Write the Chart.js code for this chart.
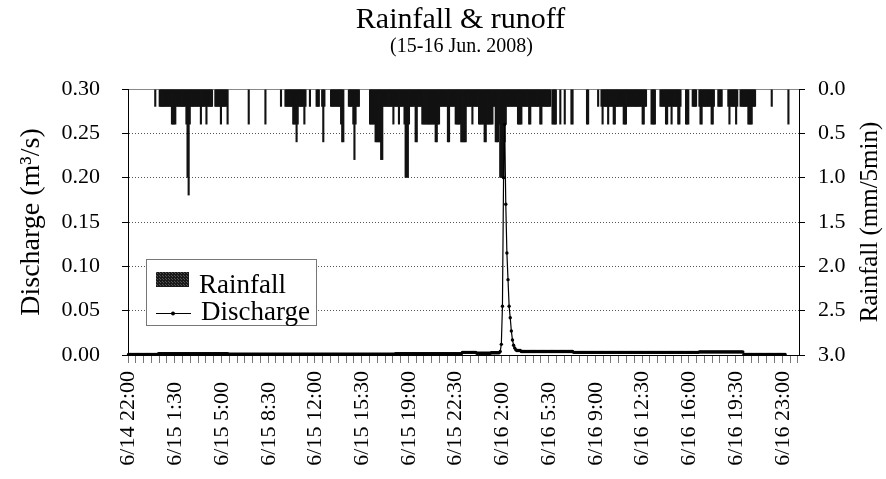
<!DOCTYPE html>
<html>
<head>
<meta charset="utf-8">
<title>Rainfall & runoff</title>
<script src="https://cdn.jsdelivr.net/npm/chart.js@4.4.1/dist/chart.umd.min.js"></script>
<style>
    html, body { margin: 0; padding: 0; background: #fff; }
    #chart { display: block; }
</style>
</head>
<body>
<canvas id="chart" width="886" height="479"></canvas>
<script>

const titleText = 'Rainfall & runoff';
const subtitleText = '(15-16 Jun. 2008)';

// 5-minute records from 6/14 22:00, one row per hour
const rainfall = [
    0, 0, 0, 0, 0, 0, 0, 0, 0, 0, 0, 0,
    0, 0, 0, 0, 0, 0, 0, 0, 0, 0, 0, 0,
    0.2, 0, 0, 0, 0.2, 0.2, 0.2, 0.2, 0.2, 0.2, 0.2, 0.2,
    0.2, 0.2, 0.2, 0.4, 0.4, 0.4, 0.4, 0.2, 0.2, 0.2, 0.2, 0.2,
    0.2, 0.2, 0.2, 0.2, 0.4, 1.0, 1.2, 0.4, 0.2, 0.2, 0.2, 0.2,
    0.2, 0.2, 0.2, 0.2, 0.2, 0.4, 0.2, 0.2, 0.2, 0.2, 0.4, 0.2,
    0.2, 0.2, 0.2, 0.2, 0, 0, 0.2, 0.2, 0.2, 0.2, 0.2, 0.4,
    0.2, 0.2, 0.2, 0.2, 0.2, 0.4, 0, 0, 0, 0, 0, 0,
    0, 0, 0, 0, 0, 0, 0, 0, 0, 0, 0, 0,
    0.4, 0, 0, 0, 0, 0, 0, 0, 0, 0, 0, 0,
    0, 0, 0, 0.4, 0, 0, 0, 0, 0, 0, 0, 0,
    0, 0, 0, 0, 0, 0.2, 0, 0, 0, 0.2, 0.2, 0.2,
    0.2, 0.2, 0.2, 0.2, 0.4, 0.4, 0.4, 0.6, 0.4, 0.2, 0.2, 0.2,
    0.2, 0.2, 0.4, 0.2, 0, 0, 0, 0.2, 0, 0, 0, 0,
    0, 0.2, 0.2, 0.2, 0, 0, 0.2, 0.6, 0.2, 0, 0, 0,
    0, 0, 0.2, 0.2, 0.2, 0.2, 0.2, 0.2, 0.2, 0.2, 0.2, 0.4,
    0.6, 0.6, 0, 0, 0, 0, 0.2, 0.2, 0.2, 0.2, 0.4, 0.8,
    0.4, 0.2, 0.2, 0.2, 0, 0, 0, 0, 0, 0, 0, 0,
    0, 0.4, 0.4, 0.4, 0.4, 0.4, 0.6, 0.6, 0.6, 0.6, 0.6, 0.8,
    0.8, 0.2, 0.2, 0.2, 0.2, 0.2, 0.2, 0.2, 0.2, 0.2, 0.4, 0.2,
    0.2, 0.2, 0.2, 0.4, 0.2, 0.2, 0.2, 0.2, 0.4, 1.0, 1.0, 1.0,
    0.4, 0.2, 0.2, 0.2, 0.2, 0.2, 0.6, 0.6, 0.2, 0.2, 0.2, 0.2,
    0.4, 0.4, 0.4, 0.4, 0.4, 0.4, 0.4, 0.4, 0.4, 0.4, 0.4, 0.4,
    0.6, 0.6, 0.4, 0.4, 0.2, 0.2, 0.2, 0.2, 0.2, 0.2, 0.2, 0.6,
    0.6, 0.2, 0.2, 0.2, 0.2, 0.2, 0.4, 0.4, 0.4, 0.4, 0.4, 0.6,
    0.6, 0.6, 0.6, 0.6, 0.2, 0.2, 0.2, 0.2, 0.2, 0.4, 0.2, 0.2,
    0.2, 0.2, 0.2, 0.4, 0.4, 0.4, 0.4, 0.4, 0.6, 0.6, 0.4, 0.4,
    0.4, 0.4, 0.4, 0.4, 0.2, 0.2, 0.6, 0.6, 0.6, 0.4, 1.0, 1.0,
    1.0, 1.0, 0.6, 0.4, 0.2, 0.2, 0.2, 0.2, 0.2, 0.2, 0.2, 0.2,
    0.2, 0.2, 0.4, 0.4, 0.4, 0.4, 0.2, 0.2, 0.2, 0.2, 0.2, 0.2,
    0.4, 0.4, 0.2, 0.2, 0.2, 0.2, 0.2, 0.2, 0.2, 0.2, 0.4, 0.4,
    0.2, 0.2, 0.2, 0.2, 0.2, 0.2, 0.2, 0.2, 0, 0.4, 0.4, 0.4,
    0.4, 0, 0, 0, 0.4, 0, 0, 0, 0.4, 0, 0, 0,
    0, 0, 0.4, 0.4, 0, 0, 0, 0, 0, 0, 0, 0,
    0, 0, 0, 0, 0.4, 0.4, 0, 0, 0, 0, 0, 0,
    0, 0, 0.2, 0, 0, 0.2, 0.4, 0.2, 0.2, 0.2, 0.2, 0.4,
    0.2, 0.2, 0.2, 0.2, 0.4, 0.4, 0.2, 0.2, 0.2, 0.2, 0.2, 0.2,
    0.2, 0.4, 0.4, 0.4, 0.2, 0.2, 0.2, 0.2, 0.2, 0.2, 0.2, 0.2,
    0.2, 0.2, 0.2, 0.2, 0.2, 0.2, 0.4, 0.4, 0.2, 0.2, 0, 0,
    0, 0, 0.4, 0.4, 0.4, 0.4, 0, 0, 0, 0, 0.2, 0.2,
    0.2, 0.2, 0.2, 0.4, 0.4, 0.2, 0.2, 0.2, 0.4, 0.2, 0.2, 0.2,
    0.2, 0.2, 0.4, 0.4, 0.2, 0, 0, 0, 0, 0.4, 0.4, 0.4,
    0, 0, 0, 0.2, 0.2, 0.2, 0.2, 0, 0, 0.2, 0.4, 0.4,
    0.2, 0.2, 0.2, 0.2, 0.2, 0.2, 0.2, 0.2, 0.4, 0.4, 0.2, 0,
    0, 0, 0.2, 0.2, 0.2, 0.2, 0, 0, 0, 0, 0, 0.2,
    0.4, 0.2, 0.2, 0.2, 0.2, 0.2, 0.4, 0.2, 0, 0, 0.2, 0.2,
    0.2, 0.2, 0.2, 0.2, 0.2, 0.4, 0.4, 0.4, 0.4, 0.2, 0.2, 0.2,
    0, 0, 0, 0, 0, 0, 0, 0, 0, 0, 0, 0,
    0, 0, 0.2, 0, 0, 0, 0, 0, 0, 0, 0, 0,
    0, 0, 0, 0, 0, 0.4, 0, 0, 0, 0, 0, 0,
    0, 0, 0
];

const discharge = [
    0.0005, 0.0005, 0.0005, 0.0005, 0.0005, 0.0005, 0.0005, 0.0005, 0.0005, 0.0005, 0.0005, 0.0005,
    0.0005, 0.0005, 0.0005, 0.0005, 0.0005, 0.0005, 0.0005, 0.0005, 0.0005, 0.0005, 0.0005, 0.0005,
    0.0005, 0.0005, 0.0005, 0.0015, 0.0015, 0.0015, 0.0015, 0.0015, 0.0015, 0.0015, 0.0015, 0.0015,
    0.0015, 0.0015, 0.0015, 0.0015, 0.0015, 0.0015, 0.0015, 0.0015, 0.0015, 0.0015, 0.0015, 0.0015,
    0.0015, 0.0015, 0.0015, 0.0015, 0.0015, 0.0015, 0.0015, 0.0015, 0.0015, 0.0015, 0.0015, 0.0015,
    0.0015, 0.0015, 0.0015, 0.0015, 0.0015, 0.0015, 0.0015, 0.0015, 0.0015, 0.0015, 0.0015, 0.0015,
    0.0015, 0.0015, 0.0015, 0.0015, 0.0015, 0.0015, 0.0015, 0.0015, 0.0015, 0.0015, 0.0015, 0.0015,
    0.0015, 0.0015, 0.0015, 0.0015, 0.0015, 0.0015, 0.001, 0.001, 0.001, 0.001, 0.001, 0.001,
    0.001, 0.001, 0.001, 0.001, 0.001, 0.001, 0.001, 0.001, 0.001, 0.001, 0.001, 0.001,
    0.001, 0.001, 0.001, 0.001, 0.001, 0.001, 0.001, 0.001, 0.001, 0.001, 0.001, 0.001,
    0.001, 0.001, 0.001, 0.001, 0.001, 0.001, 0.001, 0.001, 0.001, 0.001, 0.001, 0.001,
    0.001, 0.001, 0.001, 0.001, 0.001, 0.001, 0.001, 0.001, 0.001, 0.001, 0.001, 0.001,
    0.001, 0.001, 0.001, 0.001, 0.001, 0.001, 0.001, 0.001, 0.001, 0.001, 0.001, 0.001,
    0.001, 0.001, 0.001, 0.001, 0.001, 0.001, 0.001, 0.001, 0.001, 0.001, 0.001, 0.001,
    0.001, 0.001, 0.001, 0.001, 0.001, 0.001, 0.001, 0.001, 0.001, 0.001, 0.001, 0.001,
    0.001, 0.001, 0.001, 0.001, 0.001, 0.001, 0.001, 0.001, 0.001, 0.001, 0.001, 0.001,
    0.001, 0.001, 0.001, 0.001, 0.001, 0.001, 0.001, 0.001, 0.001, 0.001, 0.001, 0.001,
    0.001, 0.001, 0.001, 0.001, 0.001, 0.001, 0.001, 0.001, 0.001, 0.001, 0.001, 0.001,
    0.001, 0.001, 0.001, 0.001, 0.001, 0.001, 0.001, 0.001, 0.001, 0.001, 0.001, 0.001,
    0.001, 0.001, 0.001, 0.001, 0.001, 0.001, 0.001, 0.001, 0.001, 0.001, 0.001, 0.001,
    0.0015, 0.0015, 0.0015, 0.0015, 0.0015, 0.0015, 0.0015, 0.0015, 0.0015, 0.0015, 0.0015, 0.0015,
    0.0015, 0.0015, 0.0015, 0.0015, 0.0015, 0.0015, 0.0015, 0.0015, 0.0015, 0.0015, 0.0015, 0.0015,
    0.0015, 0.0015, 0.0015, 0.0015, 0.0015, 0.0015, 0.0015, 0.0015, 0.0015, 0.0015, 0.0015, 0.0015,
    0.0015, 0.0015, 0.0015, 0.0015, 0.0015, 0.0015, 0.0015, 0.0015, 0.0015, 0.0015, 0.0015, 0.0015,
    0.0015, 0.0015, 0.0015, 0.0015, 0.0015, 0.0015, 0.0015, 0.0015, 0.0015, 0.0015, 0.0015, 0.0015,
    0.003, 0.003, 0.003, 0.003, 0.003, 0.003, 0.003, 0.003, 0.003, 0.003, 0.003, 0.003,
    0.003, 0.002, 0.002, 0.002, 0.002, 0.002, 0.002, 0.002, 0.002, 0.002, 0.002, 0.002,
    0.002, 0.002, 0.0025, 0.0025, 0.0025, 0.0025, 0.0025, 0.0025, 0.0025, 0.0025, 0.004, 0.012,
    0.055, 0.2, 0.26, 0.17, 0.115, 0.085, 0.055, 0.042, 0.027, 0.017, 0.011, 0.008,
    0.006, 0.005, 0.005, 0.005, 0.005, 0.004, 0.004, 0.004, 0.004, 0.004, 0.004, 0.004,
    0.004, 0.004, 0.004, 0.004, 0.004, 0.004, 0.004, 0.004, 0.004, 0.004, 0.004, 0.004,
    0.004, 0.004, 0.004, 0.004, 0.004, 0.004, 0.004, 0.004, 0.004, 0.004, 0.004, 0.004,
    0.004, 0.004, 0.004, 0.004, 0.004, 0.004, 0.004, 0.004, 0.004, 0.004, 0.004, 0.004,
    0.004, 0.004, 0.004, 0.004, 0.003, 0.003, 0.003, 0.003, 0.003, 0.003, 0.003, 0.003,
    0.003, 0.003, 0.003, 0.003, 0.003, 0.003, 0.003, 0.003, 0.003, 0.003, 0.003, 0.003,
    0.003, 0.003, 0.003, 0.003, 0.003, 0.003, 0.003, 0.003, 0.003, 0.003, 0.003, 0.003,
    0.003, 0.003, 0.003, 0.003, 0.003, 0.003, 0.003, 0.003, 0.003, 0.003, 0.003, 0.003,
    0.003, 0.003, 0.003, 0.003, 0.003, 0.003, 0.003, 0.003, 0.003, 0.003, 0.003, 0.003,
    0.003, 0.003, 0.003, 0.003, 0.003, 0.003, 0.003, 0.003, 0.003, 0.003, 0.003, 0.003,
    0.003, 0.003, 0.003, 0.003, 0.003, 0.003, 0.003, 0.003, 0.003, 0.003, 0.003, 0.003,
    0.003, 0.003, 0.003, 0.003, 0.003, 0.003, 0.003, 0.003, 0.003, 0.003, 0.003, 0.003,
    0.003, 0.003, 0.003, 0.003, 0.003, 0.003, 0.003, 0.003, 0.003, 0.003, 0.003, 0.003,
    0.003, 0.003, 0.003, 0.003, 0.003, 0.003, 0.003, 0.003, 0.003, 0.0035, 0.0035, 0.0035,
    0.0035, 0.0035, 0.0035, 0.0035, 0.0035, 0.0035, 0.0035, 0.0035, 0.0035, 0.0035, 0.0035, 0.0035,
    0.0035, 0.0035, 0.0035, 0.0035, 0.0035, 0.0035, 0.0035, 0.0035, 0.0035, 0.0035, 0.0035, 0.0035,
    0.0035, 0.0035, 0.0035, 0.0035, 0.0035, 0.0035, 0.0035, 0.0035, 0.0035, 0.0035, 0.0035, 0.0035,
    0.0035, 0.0005, 0.0005, 0.0005, 0.0005, 0.0005, 0.0005, 0.0005, 0.0005, 0.0005, 0.0005, 0.0005,
    0.0005, 0.0005, 0.0005, 0.0005, 0.0005, 0.0005, 0.0005, 0.0005, 0.0005, 0.0005, 0.0005, 0.0005,
    0.0005, 0.0005, 0.0005, 0.0005, 0.0005, 0.0005, 0.0005, 0.0005, 0.0005, 0.0005, 0.0005, 0.0005,
    0.0005, 0.0005, 0.0005
];

// axis ranges and tick steps
const dischargeTicks = [0, 0.05, 0.10, 0.15, 0.20, 0.25, 0.30];
const rainTicks = [0, 0.5, 1.0, 1.5, 2.0, 2.5, 3.0];
const labelEvery = 42;   // 3.5 h
const minorEvery = 7;

// category labels "6/14 22:00" ... one per 5 minutes
const startDay = 14;
const startMinutes = 22 * 60;
const timeLabels = [];
for (let i = 0; i < rainfall.length; i++) {
    let m = startMinutes + i * 5;
    let day = startDay + Math.floor(m / 1440);
    let t = m % 1440;
    timeLabels.push('6/' + day + ' ' + Math.floor(t / 60) + ':' + String(t % 60).padStart(2, '0'));
}

const serif = "'Liberation Serif', 'Times New Roman', serif";
const rainColor = '#121212';

// stippled swatch for the legend box
function makeRainPattern() {
    let c = document.createElement('canvas');
    c.width = 3;
    c.height = 3;
    let g = c.getContext('2d');
    g.fillStyle = '#1a1a1a';
    g.fillRect(0, 0, 3, 3);
    g.fillStyle = '#555';
    g.fillRect(1, 0, 1, 1);
    g.fillRect(0, 2, 1, 1);
    return g.createPattern(c, 'repeat');
}

// titles, right axis caption and the boxed legend
const decorations = {
    id: 'decorations',
    afterDraw(chart) {
        const ctx = chart.ctx;
        const ca = chart.chartArea;
        const cx = (ca.left + ca.right) / 2;

        ctx.save();
        ctx.fillStyle = '#000';
        ctx.textAlign = 'center';
        ctx.textBaseline = 'alphabetic';
        ctx.font = '30px ' + serif;
        ctx.fillText(titleText, cx - 3, 28);
        ctx.font = '20px ' + serif;
        ctx.fillText(subtitleText, cx - 2, 52);

        ctx.translate(870, (ca.top + ca.bottom) / 2);
        ctx.rotate(-Math.PI / 2);
        ctx.font = '25px ' + serif;
        ctx.textBaseline = 'middle';
        ctx.fillText('Rainfall (mm/5min)', 0, 0);
        ctx.restore();

        let lx = ca.left + 18;
        let ly = ca.top + 170;
        ctx.save();
        ctx.fillStyle = '#fff';
        ctx.fillRect(lx, ly, 170, 66);
        ctx.strokeStyle = '#777';
        ctx.lineWidth = 1;
        ctx.strokeRect(lx + 0.5, ly + 0.5, 170, 66);

        ctx.fillStyle = makeRainPattern();
        ctx.fillRect(lx + 10, ly + 13, 33, 15);

        ctx.strokeStyle = '#000';
        ctx.lineWidth = 1.2;
        ctx.beginPath();
        ctx.moveTo(lx + 10, ly + 54.5);
        ctx.lineTo(lx + 45, ly + 54.5);
        ctx.stroke();
        ctx.fillStyle = '#000';
        ctx.beginPath();
        ctx.arc(lx + 27, ly + 54.5, 2, 0, Math.PI * 2);
        ctx.fill();

        ctx.font = '27px ' + serif;
        ctx.textAlign = 'left';
        ctx.fillText('Rainfall', lx + 53, ly + 34);
        ctx.fillText('Discharge', lx + 55, ly + 61);
        ctx.restore();
    }
};

const chart = new Chart(document.getElementById('chart'), {
    type: 'bar',
    data: {
        labels: timeLabels,
        datasets: [{
            type: 'line',
            label: 'Discharge',
            data: discharge,
            yAxisID: 'y',
            borderColor: '#000',
            borderWidth: 1.2,
            pointRadius: 1.7,
            pointBackgroundColor: '#000',
            pointBorderWidth: 0,
            tension: 0,
            order: 0
        }, {
            label: 'Rainfall',
            data: rainfall,
            yAxisID: 'yRain',
            backgroundColor: rainColor,
            borderWidth: 0,
            barPercentage: 1.9,
            categoryPercentage: 1,
            order: 1
        }]
    },
    options: {
        responsive: false,
        animation: false,
        devicePixelRatio: 1,
        layout: { padding: { top: 89, left: 0, right: 0, bottom: 0 } },
        plugins: {
            legend: { display: false },
            title: { display: false },
            tooltip: { enabled: false }
        },
        scales: {
            x: {
                type: 'category',
                offset: true,
                afterFit: function (s) { s.height = 124; },
                border: { display: true, color: '#000', width: 1 },
                grid: {
                    drawOnChartArea: false,
                    drawTicks: true,
                    tickLength: 8,
                    color: c => (c.index % minorEvery === 0 ? '#777' : 'rgba(0,0,0,0)')
                },
                ticks: {
                    autoSkip: false,
                    minRotation: 90,
                    maxRotation: 90,
                    padding: 8,
                    color: '#000',
                    font: { family: serif, size: 22 },
                    callback: function (val, idx) {
                        if (idx % labelEvery !== 0) return '';
                        let s = this.getLabelForValue(val);
                        // pad one-digit hours so every label starts at the same line
                        return s.length < 10 ? s + '  ' : s;
                    }
                }
            },
            y: {
                position: 'left',
                min: dischargeTicks[0],
                max: dischargeTicks[dischargeTicks.length - 1],
                afterFit: function (s) { s.width = 128; },
                afterBuildTicks: function (s) { s.ticks = dischargeTicks.map(v => ({ value: v })); },
                border: {
                    display: true, color: '#000', width: 1,
                    // top edge of the plot is a plain line, the rest dotted
                    dash: c => (c.tick && c.tick.value === 0.3 ? [] : [1, 2])
                },
                grid: {
                    color: c => (c.tick && c.tick.value === 0.3 ? '#888' : '#555'),
                    lineWidth: 1,
                    tickLength: 6,
                    tickColor: '#000'
                },
                ticks: {
                    padding: 22,
                    color: '#000',
                    font: { family: serif, size: 22 },
                    callback: v => v.toFixed(2)
                },
                title: {
                    display: true,
                    text: 'Discharge (m³/s)',
                    color: '#000',
                    font: { family: serif, size: 28 },
                    padding: { top: 15, bottom: 0 }
                }
            },
            yRain: {
                position: 'right',
                reverse: true,
                min: rainTicks[0],
                max: rainTicks[rainTicks.length - 1],
                afterFit: function (s) { s.width = 87; },
                afterBuildTicks: function (s) { s.ticks = rainTicks.map(v => ({ value: v })); },
                border: { display: true, color: '#000', width: 1 },
                grid: {
                    drawOnChartArea: false,
                    tickLength: 6,
                    tickColor: '#000'
                },
                ticks: {
                    padding: 13,
                    color: '#000',
                    font: { family: serif, size: 22 },
                    callback: v => v.toFixed(1)
                }
            }
        }
    },
    plugins: [decorations]
});
</script>
</body>
</html>
